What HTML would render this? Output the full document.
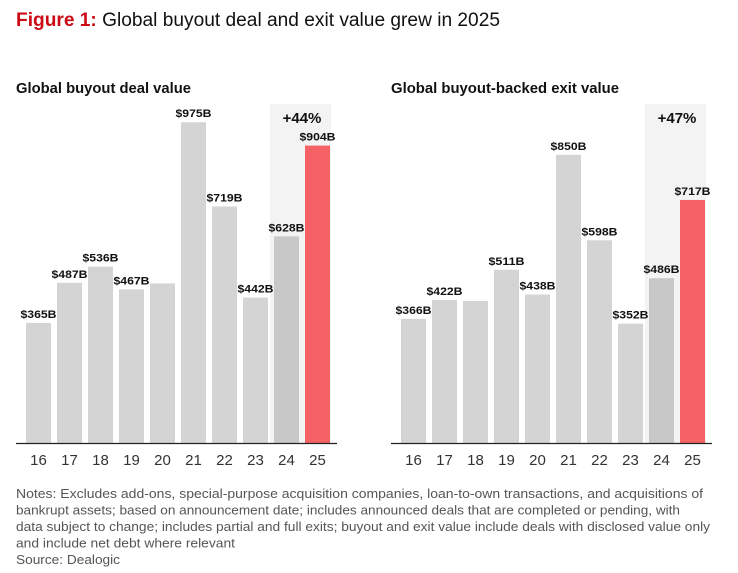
<!DOCTYPE html>
<html><head><meta charset="utf-8"><style>
body{margin:0;background:#fff;width:738px;height:573px;overflow:hidden;font-family:"Liberation Sans",sans-serif}
svg{display:block}
</style></head><body>
<svg id="chart" width="738" height="573" viewBox="0 0 738 573">
<text x="16" y="26" font-size="19" fill="#111" textLength="484" lengthAdjust="spacingAndGlyphs"><tspan font-weight="bold" fill="#cc0a16">Figure 1:</tspan> Global buyout deal and exit value grew in 2025</text>
<g id="notes" font-size="13" fill="#555" lengthAdjust="spacingAndGlyphs">
<text x="16" y="498" textLength="687" lengthAdjust="spacingAndGlyphs">Notes: Excludes add-ons, special-purpose acquisition companies, loan-to-own transactions, and acquisitions of</text>
<text x="16" y="514.5" textLength="664" lengthAdjust="spacingAndGlyphs">bankrupt assets; based on announcement date; includes announced deals that are completed or pending, with</text>
<text x="16" y="531" textLength="694" lengthAdjust="spacingAndGlyphs">data subject to change; includes partial and full exits; buyout and exit value include deals with disclosed value only</text>
<text x="16" y="547.5" textLength="219" lengthAdjust="spacingAndGlyphs">and include net debt where relevant</text>
<text x="16" y="564" textLength="104" lengthAdjust="spacingAndGlyphs">Source: Dealogic</text>
</g>
</svg>
<script>
const years = ["16","17","18","19","20","21","22","23","24","25"];
const dealValues = [365,487,536,467,485,975,719,442,628,904];
const dealLabels = ["$365B","$487B","$536B","$467B","","$975B","$719B","$442B","$628B","$904B"];
const exitValues = [366,422,419,511,438,850,598,352,486,717];
const exitLabels = ["$366B","$422B","","$511B","$438B","$850B","$598B","$352B","$486B","$717B"];
const dealGrowth = "+44%";
const exitGrowth = "+47%";

const svg = document.getElementById('chart');
const NS = "http://www.w3.org/2000/svg";
function mk(tag, attrs, parent){const e=document.createElementNS(NS,tag);for(const k in attrs)e.setAttribute(k,attrs[k]);(parent||svg).appendChild(e);return e;}

function drawPanel(cfg){
  const g = mk('g',{});
  
  
  const base = 443;
  const y = v => base - v*cfg.scale;
  const x = i => cfg.x0 + i*31;
  const bw = 25;
  const t = mk('text',{x:cfg.titleX,y:93,'font-size':14.5,'font-weight':'bold',fill:'#111',textLength:cfg.titleW,lengthAdjust:'spacingAndGlyphs'},g);
  t.textContent = cfg.title;
  
  
  const hl = mk('rect',{x:x(8)-4,y:104,width:61,height:base-104,fill:'#f3f3f3'},g);
  
  
  const gt = mk('text',{x:x(8)+28,y:123,'font-size':15,'font-weight':'bold',fill:'#111','text-anchor':'middle'},g);
  gt.textContent = cfg.growth;
  
  
  cfg.values.forEach((v,i)=>{
    const fill = i===9 ? '#f46265' : (i===8 ? '#c8c8c8' : '#d4d4d4');
    const r = mk('rect',{x:x(i),y:y(v),width:bw,height:base-y(v),fill:fill},g);
    
    
    if(cfg.labels[i]){
      const l = mk('text',{x:x(i)+bw/2,y:y(v)-5,'font-size':11,'font-weight':'bold',fill:'#111','text-anchor':'middle',textLength:36,lengthAdjust:'spacingAndGlyphs'},g);
      l.textContent = cfg.labels[i];
      
      
    }
    const yl = mk('text',{x:x(i)+bw/2,y:465,'font-size':15,fill:'#333','text-anchor':'middle'},g);
    yl.textContent = years[i];
    
    
  });
  const ax = mk('line',{x1:cfg.x0-10,x2:x(9)+bw+7,y1:base+0.5,y2:base+0.5,stroke:'#222','stroke-width':1.3},g);
  
  
}
drawPanel({name:'deal-value-chart',title:'Global buyout deal value',titleX:16,titleW:175,x0:26,scale:0.329,values:dealValues,labels:dealLabels,growth:dealGrowth});
drawPanel({name:'exit-value-chart',title:'Global buyout-backed exit value',titleX:391,titleW:228,x0:401,scale:0.339,values:exitValues,labels:exitLabels,growth:exitGrowth});
</script>
</body></html>
